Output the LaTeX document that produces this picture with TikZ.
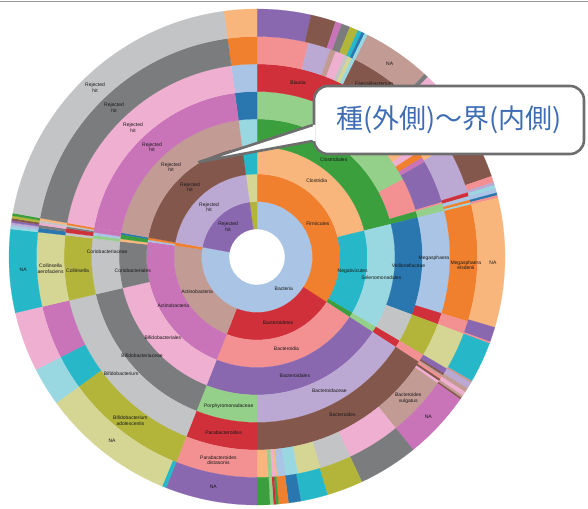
\documentclass[tikz,border=0pt]{standalone}
\usepackage{fontspec}
\setmainfont{Liberation Sans}
\newfontfamily\jpfont{Noto Sans CJK JP}

\definecolor{sbBlue}{HTML}{2A77B0}
\definecolor{sbBlueL}{HTML}{A9C4E4}
\definecolor{sbOrange}{HTML}{F07F2E}
\definecolor{sbOrangeL}{HTML}{F8B67C}
\definecolor{sbGreen}{HTML}{3C9F3E}
\definecolor{sbGreenL}{HTML}{94D08A}
\definecolor{sbRed}{HTML}{D0303A}
\definecolor{sbRedL}{HTML}{F39192}
\definecolor{sbPurple}{HTML}{8A68B0}
\definecolor{sbPurpleL}{HTML}{BCA9D3}
\definecolor{sbBrown}{HTML}{84574C}
\definecolor{sbBrownL}{HTML}{C29B95}
\definecolor{sbPink}{HTML}{C973B8}
\definecolor{sbPinkL}{HTML}{EFAFD1}
\definecolor{sbGray}{HTML}{7B7C7E}
\definecolor{sbGrayL}{HTML}{C3C4C5}
\definecolor{sbOlive}{HTML}{B3B53B}
\definecolor{sbOliveL}{HTML}{D5D594}
\definecolor{sbCyan}{HTML}{26B8C8}
\definecolor{sbCyanL}{HTML}{9AD8E1}
\definecolor{calloutgray}{HTML}{6E6E6E}
\definecolor{calloutblue}{HTML}{3F6DB5}

\newcommand{\sbseg}[4]{%
  \filldraw[#4, line width=0.2pt] (#2:{28+27.5*(#1-1)}) arc[start angle=#2, end angle=#3, radius={28+27.5*(#1-1)}]
    -- (#3:{28+27.5*#1}) arc[start angle=#3, end angle=#2, radius={28+27.5*#1}] -- cycle;}

\begin{document}
\begin{tikzpicture}[x=1pt, y=1pt]
	\tikzset{sblabel/.style={font=\fontsize{5}{5.5}\selectfont, inner sep=0pt, align=center, text=black!90}}
	\tikzset{sbcallout/.style={draw=calloutgray, line width=2.6pt, fill=white, rounded corners=14pt,
				minimum width=270pt, minimum height=68pt, inner sep=0pt}}
	\tikzset{sbtail/.style={draw=calloutgray, line width=2.6pt, line join=round}}

	\useasboundingbox (-257,-251) rectangle (331,257);
	\fill[white] (-257,-251) rectangle (331,257);
	\draw[line width=1pt, black!40] (-257,255) -- (331,255);

	\sbseg{1}{-190.2}{90}{sbBlueL}
	\sbseg{1}{90}{97.7}{sbOlive}
	\sbseg{1}{97.7}{169.8}{sbPurple}

	\sbseg{2}{-33}{90}{sbOrange}
	\sbseg{2}{-111.5}{-33}{sbRed}
	\sbseg{2}{-188}{-111.5}{sbBrownL}
	\sbseg{2}{-190.2}{-188}{sbOrange}
	\sbseg{2}{90}{97.7}{sbOliveL}
	\sbseg{2}{97.7}{169.8}{sbPurpleL}

	\sbseg{3}{13.8}{90}{sbOrangeL}
	\sbseg{3}{-30.5}{13.8}{sbCyan}
	\sbseg{3}{-33}{-30.5}{sbGreen}
	\sbseg{3}{-111.5}{-33}{sbRedL}
	\sbseg{3}{-188}{-111.5}{sbPink}
	\sbseg{3}{-189}{-188}{sbBlueL}
	\sbseg{3}{-190.2}{-189}{sbOrange}
	\sbseg{3}{90}{97.7}{sbCyan}
	\sbseg{3}{97.7}{169.8}{sbBrown}

	\sbseg{4}{13.8}{90}{sbGreen}
	\sbseg{4}{-30.5}{13.8}{sbCyanL}
	\sbseg{4}{-33}{-30.5}{sbGreenL}
	\sbseg{4}{-111.5}{-33}{sbPurple}
	\sbseg{4}{-167}{-111.5}{sbPinkL}
	\sbseg{4}{-186.5}{-167}{sbGray}
	\sbseg{4}{-187.6}{-186.5}{sbOrangeL}
	\sbseg{4}{-189.4}{-187.6}{sbGreen}
	\sbseg{4}{-190.2}{-189.4}{sbBlue}
	\sbseg{4}{90}{97.7}{sbCyanL}
	\sbseg{4}{97.7}{169.8}{sbBrownL}

	\sbseg{5}{28}{90}{sbGreenL}
	\sbseg{5}{16}{28}{sbRedL}
	\sbseg{5}{13.8}{16}{sbGreen}
	\sbseg{5}{-20.4}{13.8}{sbBlue}
	\sbseg{5}{-30.5}{-20.4}{sbGrayL}
	\sbseg{5}{-33}{-30.5}{sbRed}
	\sbseg{5}{-90}{-33}{sbPurpleL}
	\sbseg{5}{-111.5}{-90}{sbGreenL}
	\sbseg{5}{-167}{-111.5}{sbGray}
	\sbseg{5}{-186.5}{-167}{sbGrayL}
	\sbseg{5}{-187.6}{-186.5}{sbGreenL}
	\sbseg{5}{-188.6}{-187.6}{sbBlueL}
	\sbseg{5}{-190.2}{-188.6}{sbPink}
	\sbseg{5}{90}{97.7}{sbBlue}
	\sbseg{5}{97.7}{169.8}{sbPink}

	\sbseg{6}{63.5}{90}{sbRed}
	\sbseg{6}{47.5}{63.5}{sbPurpleL}
	\sbseg{6}{35}{47.5}{sbOrangeL}
	\sbseg{6}{33}{35}{sbPinkL}
	\sbseg{6}{31}{33}{sbOrange}
	\sbseg{6}{29.5}{31}{sbPink}
	\sbseg{6}{16.5}{29.5}{sbPurple}
	\sbseg{6}{16}{16.5}{sbRedL}
	\sbseg{6}{13.8}{16}{sbGreenL}
	\sbseg{6}{-17}{13.8}{sbBlueL}
	\sbseg{6}{-20.4}{-17}{sbRed}
	\sbseg{6}{-30.5}{-20.4}{sbOlive}
	\sbseg{6}{-33}{-30.5}{sbRedL}
	\sbseg{6}{-90}{-33}{sbBrown}
	\sbseg{6}{-111.5}{-90}{sbRed}
	\sbseg{6}{-167}{-111.5}{sbGrayL}
	\sbseg{6}{-186.5}{-167}{sbOlive}
	\sbseg{6}{-187.3}{-186.5}{sbGrayL}
	\sbseg{6}{-188.6}{-187.3}{sbRed}
	\sbseg{6}{-189.1}{-188.6}{sbGray}
	\sbseg{6}{-189.6}{-189.1}{sbGrayL}
	\sbseg{6}{-190.2}{-189.6}{sbOrange}
	\sbseg{6}{90}{97.7}{sbBlueL}
	\sbseg{6}{97.7}{169.8}{sbPinkL}

	\sbseg{7}{76.5}{90}{sbRedL}
	\sbseg{7}{70.5}{76.5}{sbPurpleL}
	\sbseg{7}{69}{70.5}{sbBrownL}
	\sbseg{7}{66.5}{69}{sbPinkL}
	\sbseg{7}{65.5}{66.5}{sbGrayL}
	\sbseg{7}{64.5}{65.5}{sbOliveL}
	\sbseg{7}{63.5}{64.5}{sbCyanL}
	\sbseg{7}{47.5}{63.5}{sbBrown}
	\sbseg{7}{30}{47.5}{sbOrangeL}
	\sbseg{7}{17}{30}{sbPurpleL}
	\sbseg{7}{16}{17}{sbRed}
	\sbseg{7}{15}{16}{sbBlueL}
	\sbseg{7}{14.3}{15}{sbOrange}
	\sbseg{7}{13.8}{14.3}{sbCyanL}
	\sbseg{7}{-17}{13.8}{sbOrange}
	\sbseg{7}{-20.4}{-17}{sbRedL}
	\sbseg{7}{-30.5}{-20.4}{sbOliveL}
	\sbseg{7}{-32}{-30.5}{sbPurple}
	\sbseg{7}{-32.5}{-32}{sbBrown}
	\sbseg{7}{-33}{-32.5}{sbBrownL}
	\sbseg{7}{-33.7}{-33}{sbRedL}
	\sbseg{7}{-34.3}{-33.7}{sbBrown}
	\sbseg{7}{-35}{-34.3}{sbPinkL}
	\sbseg{7}{-51}{-35}{sbBrownL}
	\sbseg{7}{-65}{-51}{sbPinkL}
	\sbseg{7}{-73.3}{-65}{sbGrayL}
	\sbseg{7}{-79.3}{-73.3}{sbOliveL}
	\sbseg{7}{-82.6}{-79.3}{sbCyanL}
	\sbseg{7}{-84.8}{-82.6}{sbBlueL}
	\sbseg{7}{-85.3}{-84.8}{sbOrangeL}
	\sbseg{7}{-86.1}{-85.3}{sbPinkL}
	\sbseg{7}{-87.2}{-86.1}{sbGreenL}
	\sbseg{7}{-90}{-87.2}{sbOrangeL}
	\sbseg{7}{-111.5}{-90}{sbRedL}
	\sbseg{7}{-144}{-111.5}{sbOlive}
	\sbseg{7}{-153}{-144}{sbCyan}
	\sbseg{7}{-167}{-153}{sbPink}
	\sbseg{7}{-186.5}{-167}{sbOliveL}
	\sbseg{7}{-187.6}{-186.5}{sbBlue}
	\sbseg{7}{-188.4}{-187.6}{sbGray}
	\sbseg{7}{-189}{-188.4}{sbPinkL}
	\sbseg{7}{-189.6}{-189}{sbGrayL}
	\sbseg{7}{-190.2}{-189.6}{sbOrangeL}
	\sbseg{7}{90}{97.7}{sbOrange}
	\sbseg{7}{97.7}{169.8}{sbGray}

	\sbseg{8}{77.4}{90}{sbPurple}
	\sbseg{8}{71.5}{77.4}{sbBrown}
	\sbseg{8}{70}{71.5}{sbPink}
	\sbseg{8}{68}{70}{sbGray}
	\sbseg{8}{66}{68}{sbOlive}
	\sbseg{8}{65}{66}{sbCyan}
	\sbseg{8}{64.3}{65}{sbBlue}
	\sbseg{8}{63.5}{64.3}{sbCyanL}
	\sbseg{8}{47.5}{63.5}{sbBrownL}
	\sbseg{8}{46.5}{47.5}{sbGray}
	\sbseg{8}{30}{46.5}{sbPinkL}
	\sbseg{8}{19}{30}{sbBrown}
	\sbseg{8}{17.5}{19}{sbRedL}
	\sbseg{8}{16.8}{17.5}{sbPurpleL}
	\sbseg{8}{16}{16.8}{sbCyanL}
	\sbseg{8}{15}{16}{sbBlueL}
	\sbseg{8}{14.4}{15}{sbBlue}
	\sbseg{8}{13.8}{14.4}{sbRedL}
	\sbseg{8}{-16.5}{13.8}{sbOrangeL}
	\sbseg{8}{-20}{-16.5}{sbPurple}
	\sbseg{8}{-20.4}{-20}{sbRedL}
	\sbseg{8}{-30}{-20.4}{sbCyan}
	\sbseg{8}{-30.5}{-30}{sbBrownL}
	\sbseg{8}{-32}{-30.5}{sbPurpleL}
	\sbseg{8}{-33}{-32}{sbBrownL}
	\sbseg{8}{-34}{-33}{sbPinkL}
	\sbseg{8}{-34.6}{-34}{sbBrownL}
	\sbseg{8}{-35}{-34.6}{sbBrown}
	\sbseg{8}{-51}{-35}{sbPink}
	\sbseg{8}{-65}{-51}{sbGray}
	\sbseg{8}{-73.5}{-65}{sbOlive}
	\sbseg{8}{-79.8}{-73.5}{sbCyan}
	\sbseg{8}{-82.7}{-79.8}{sbBlue}
	\sbseg{8}{-85}{-82.7}{sbOrange}
	\sbseg{8}{-85.6}{-85}{sbGreen}
	\sbseg{8}{-86.2}{-85.6}{sbRed}
	\sbseg{8}{-87}{-86.2}{sbGreenL}
	\sbseg{8}{-90}{-87}{sbGreen}
	\sbseg{8}{-111.5}{-90}{sbPurple}
	\sbseg{8}{-112.5}{-111.5}{sbCyan}
	\sbseg{8}{-144}{-112.5}{sbOliveL}
	\sbseg{8}{-153}{-144}{sbCyanL}
	\sbseg{8}{-167}{-153}{sbPinkL}
	\sbseg{8}{-186.5}{-167}{sbCyan}
	\sbseg{8}{-187}{-186.5}{sbCyanL}
	\sbseg{8}{-187.5}{-187}{sbBlueL}
	\sbseg{8}{-188}{-187.5}{sbPurpleL}
	\sbseg{8}{-188.5}{-188}{sbPurple}
	\sbseg{8}{-189}{-188.5}{sbBrown}
	\sbseg{8}{-189.6}{-189}{sbOlive}
	\sbseg{8}{-190.2}{-189.6}{sbGreen}
	\sbseg{8}{90}{97.7}{sbOrangeL}
	\sbseg{8}{97.7}{169.8}{sbGrayL}

	\node[sblabel] (lRejected1) at (133.75:41.75) {Rejected\\hit};
	\node[sblabel] (lRejected2) at (133.75:69.25) {Rejected\\hit};
	\node[sblabel] (lRejected3) at (133.75:96.75) {Rejected\\hit};
	\node[sblabel] (lRejected4) at (133.75:124.25) {Rejected\\hit};
	\node[sblabel] (lRejected5) at (133.75:151.75) {Rejected\\hit};
	\node[sblabel] (lRejected6) at (133.75:179.25) {Rejected\\hit};
	\node[sblabel] (lRejected7) at (133.75:206.75) {Rejected\\hit};
	\node[sblabel] (lRejected8) at (133.75:234.25) {Rejected\\hit};

	\node[sblabel] (lBacteria) at (-50:41.75) {Bacteria};
	\node[sblabel] (lFirmicutes) at (28.5:69.25) {Firmicutes};
	\node[sblabel] (lBacteroidetes) at (-72.25:69.25) {Bacteroidetes};
	\node[sblabel] (lActinoPhylum) at (-149.75:69.25) {Actinobacteria};
	\node[sblabel] (lClostridia) at (51.9:96.75) {Clostridia};
	\node[sblabel] (lNegativicutes) at (-8.35:96.75) {Negativicutes};
	\node[sblabel] (lBacteroidia) at (-72.25:96.75) {Bacteroidia};
	\node[sblabel] (lActinoClass) at (-149.75:96.75) {Actinobacteria};
	\node[sblabel] (lClostridiales) at (51.9:124.25) {Clostridiales};
	\node[sblabel] (lSelenomonadales) at (-9.5:126) {Selenomonadales};
	\node[sblabel] (lBacteroidales) at (-72.25:124.25) {Bacteroidales};
	\node[sblabel] (lBifidobacteriales) at (-139.25:124.25) {Bifidobacteriales};
	\node[sblabel] (lCoriobacteriales) at (-173.5:125) {Coriobacteriales};
	\node[sblabel] (lVeillonellaceae) at (-3.3:151.75) {Veillonellaceae};
	\node[sblabel] (lBacteroidaceae) at (-61.5:151.75) {Bacteroidaceae};
	\node[sblabel] (lPorphyromonadaceae) at (-100.75:151.75) {Porphyromonadaceae};
	\node[sblabel] (lBifidobacteriaceae) at (-139.25:151.75) {Bifidobacteriaceae};
	\node[sblabel] (lCoriobacteriaceae) at (-182:150) {Coriobacteriaceae};
	\node[sblabel] (lBlautia) at (76.75:179.25) {Blautia};
	\node[sblabel] (lMegasphaera) at (-0.3:177) {Megasphaera};
	\node[sblabel] (lBacteroides) at (-61.5:179.25) {Bacteroides};
	\node[sblabel] (lParabacteroides) at (-100.75:179.25) {Parabacteroides};
	\node[sblabel] (lBifidobacterium) at (-139.25:179.25) {Bifidobacterium};
	\node[sblabel] (lCollinsella) at (-175.5:180) {Collinsella};
	\node[sblabel] (lFaecalibacterium) at (55.5:206.75) {Faecalibacterium\\prausnitzii};
	\node[sblabel] (lElsdenii) at (-2.2:209) {Megasphaera\\elsdenii};
	\node[sblabel] (lVulgatus) at (-43:206.75) {Bacteroides\\vulgatus};
	\node[sblabel] (lDistasonis) at (-100.75:206.75) {Parabacteroides\\distasonis};
	\node[sblabel] (lAdolescentis) at (-127.75:206.75) {Bifidobacterium\\adolescentis};
	\node[sblabel] (lAerofaciens) at (-176.75:206.75) {Collinsella\\aerofaciens};
	\node[sblabel] (lNAfaecali) at (55.5:234.25) {NA};
	\node[sblabel] (lNAelsdenii) at (-1.35:236) {NA};
	\node[sblabel] (lNAvulgatus) at (-43:234.25) {NA};
	\node[sblabel] (lNAdistasonis) at (-100.75:234.25) {NA};
	\node[sblabel] (lNAadolescentis) at (-128.25:234.25) {NA};
	\node[sblabel] (lNAaerofaciens) at (-176.75:234.25) {NA};

	\node[sbcallout] (callout) at (192,137)
		{\jpfont\fontsize{27}{30}\selectfont\color{calloutblue}種(外側)～界(内側)};
	\coordinate (tip) at (-58,95);
	\fill[white] ([yshift=-5pt]callout.west) -- (tip) -- ([yshift=-21pt]callout.west)
		-- ([shift={(3pt,-21pt)}]callout.west) -- ([shift={(3pt,-5pt)}]callout.west) -- cycle;
	\draw[sbtail] ([yshift=-5pt]callout.west) -- (tip) -- ([yshift=-21pt]callout.west);
\end{tikzpicture}
\end{document}
